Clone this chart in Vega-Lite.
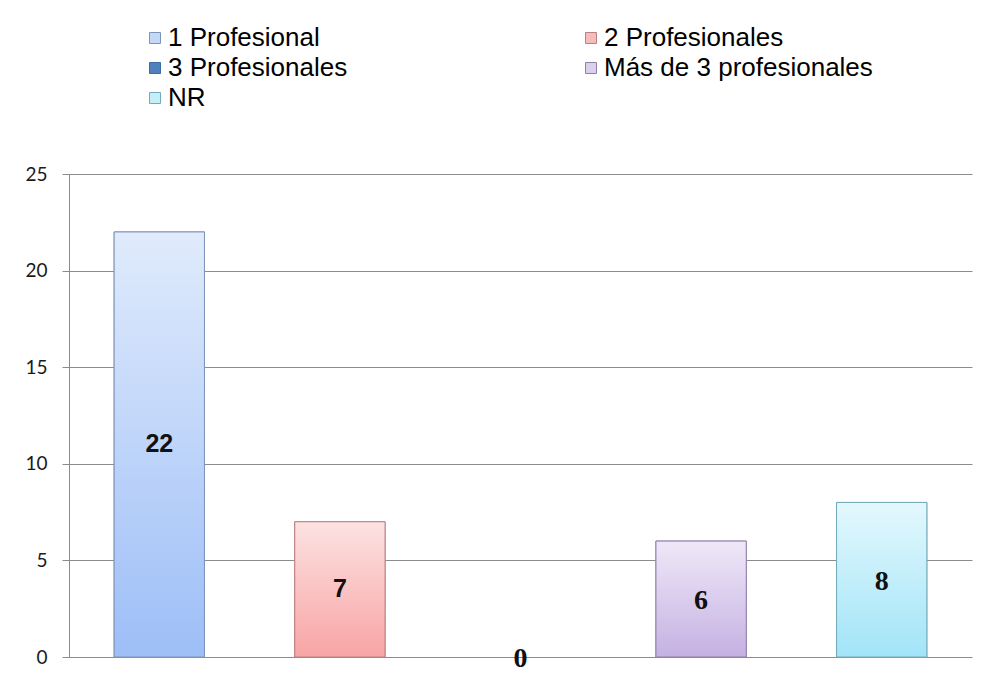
{
  "$schema": "https://vega.github.io/schema/vega-lite/v6.json",
  "width": 903,
  "height": 483,
  "autosize": "none",
  "padding": {"left": 69, "top": 174, "right": 17, "bottom": 24},
  "background": "white",
  "data": {
    "values": [
      {"cat": "1 Profesional", "value": 22},
      {"cat": "2 Profesionales", "value": 7},
      {"cat": "3 Profesionales", "value": 0},
      {"cat": "Más de 3 profesionales", "value": 6},
      {"cat": "NR", "value": 8}
    ]
  },
  "layer": [
    {
      "transform": [{"filter": "datum.value > 0"}],
      "mark": {"type": "bar", "strokeWidth": 1},
      "encoding": {
        "x": {"field": "cat", "type": "nominal", "sort": null, "axis": null,
              "scale": {"domain": ["1 Profesional", "2 Profesionales", "3 Profesionales", "Más de 3 profesionales", "NR"],
                        "paddingInner": 0.5, "paddingOuter": 0.25}},
        "y": {"field": "value", "type": "quantitative",
              "scale": {"domain": [0, 25], "nice": false},
              "axis": {"values": [0, 5, 10, 15, 20, 25], "title": null, "grid": true,
                       "gridColor": "#8c8c8c", "gridWidth": 1,
                       "domainColor": "#8c8c8c", "tickColor": "#8c8c8c", "tickSize": 7,
                       "labelPadding": 15, "labelFont": "Lato", "labelFontSize": 19,
                       "labelColor": "#1a1a1a"}},
        "fill": {"field": "cat", "type": "nominal", "title": null,
                 "scale": {"domain": ["1 Profesional", "2 Profesionales", "3 Profesionales", "Más de 3 profesionales", "NR"],
                           "range": ["#c6d9f4", "#f5bcbc", "#4f81bd", "#dad0ec", "#c4eef8"]}},
        "stroke": {"field": "cat", "type": "nominal", "title": null,
                   "scale": {"domain": ["1 Profesional", "2 Profesionales", "3 Profesionales", "Más de 3 profesionales", "NR"],
                             "range": ["#7d94b8", "#bb8080", "#3d6aa0", "#8f80a8", "#74aab8"]}}
      }
    },
    {
      "transform": [{"filter": "datum.value > 0"}],
      "mark": {"type": "bar", "strokeWidth": 1},
      "encoding": {
        "x": {"field": "cat", "type": "nominal", "sort": null, "axis": null},
        "y": {"field": "value", "type": "quantitative", "axis": null,
              "scale": {"domain": [0, 25], "nice": false}},
        "fill": {
          "condition": [
            {"test": "datum.cat === '1 Profesional'", "value": {"gradient": "linear", "x1": 0, "y1": 0, "x2": 0, "y2": 1, "stops": [{"offset": 0, "color": "#e0ebfc"}, {"offset": 1, "color": "#9dbef7"}]}},
            {"test": "datum.cat === '2 Profesionales'", "value": {"gradient": "linear", "x1": 0, "y1": 0, "x2": 0, "y2": 1, "stops": [{"offset": 0, "color": "#fde2e2"}, {"offset": 1, "color": "#f8a4a4"}]}},
            {"test": "datum.cat === 'Más de 3 profesionales'", "value": {"gradient": "linear", "x1": 0, "y1": 0, "x2": 0, "y2": 1, "stops": [{"offset": 0, "color": "#efe8f8"}, {"offset": 1, "color": "#c5b1e2"}]}},
            {"test": "datum.cat === 'NR'", "value": {"gradient": "linear", "x1": 0, "y1": 0, "x2": 0, "y2": 1, "stops": [{"offset": 0, "color": "#e3f8fd"}, {"offset": 1, "color": "#a2e4f8"}]}}
          ],
          "value": "#4f81bd"
        },
        "stroke": {
          "condition": [
            {"test": "datum.cat === '1 Profesional'", "value": "#7d94b8"},
            {"test": "datum.cat === '2 Profesionales'", "value": "#bb8080"},
            {"test": "datum.cat === 'Más de 3 profesionales'", "value": "#8f80a8"},
            {"test": "datum.cat === 'NR'", "value": "#74aab8"}
          ],
          "value": "#3d6aa0"
        }
      }
    },
    {
      "transform": [{"filter": "datum.value == 22 || datum.value == 7"}],
      "mark": {"type": "text", "font": "Liberation Sans", "fontSize": 25, "fontWeight": "bold", "color": "#111111", "baseline": "middle", "align": "center"},
      "encoding": {
        "x": {"field": "cat", "type": "nominal", "sort": null, "axis": null},
        "y": {"field": "value", "type": "quantitative", "axis": null,
              "scale": {"domain": [0, 50], "nice": false}},
        "text": {"field": "value", "type": "quantitative"}
      }
    },
    {
      "transform": [{"filter": "datum.value == 0 || datum.value == 6 || datum.value == 8"}],
      "mark": {"type": "text", "font": "Liberation Serif", "fontSize": 28, "fontWeight": "bold", "color": "#111111", "baseline": "middle", "align": "center", "dy": 2},
      "encoding": {
        "x": {"field": "cat", "type": "nominal", "sort": null, "axis": null},
        "y": {"field": "value", "type": "quantitative", "axis": null,
              "scale": {"domain": [0, 50], "nice": false}},
        "text": {"field": "value", "type": "quantitative"}
      }
    }
  ],
  "resolve": {"scale": {"y": "independent"}},
  "config": {
    "view": {"stroke": null},
    "legend": {
      "orient": "none",
      "legendX": 73,
      "legendY": -149,
      "direction": "horizontal",
      "columns": 2,
      "columnPadding": 230,
      "rowPadding": 4,
      "symbolType": "square",
      "symbolSize": 121,
      "symbolStrokeWidth": 1,
      "symbolOffset": 0,
      "labelOffset": 0,
      "labelFont": "Liberation Sans",
      "labelFontSize": 26,
      "labelColor": "#000000",
      "labelLimit": 400,
      "gridAlign": "each"
    }
  }
}
